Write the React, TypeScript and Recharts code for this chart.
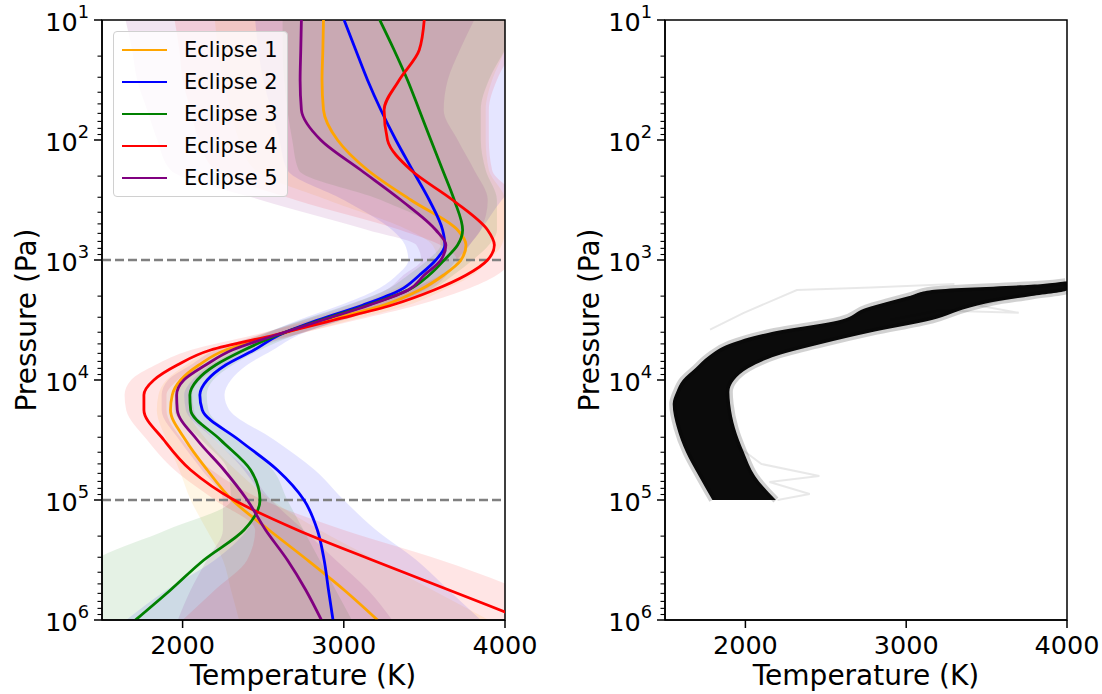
import React from 'react';
import { ComposedChart, Area, Line, XAxis, YAxis, ReferenceLine, ReferenceArea } from 'recharts';

// log10 of pressure (Pa) at which each profile was read
const LOG_P = [1, 1.25, 1.5, 1.75, 2, 2.25, 2.5, 2.75, 2.875, 3, 3.125, 3.25, 3.375, 3.5, 3.625, 3.75, 3.875, 4, 4.125, 4.25, 4.5, 4.75, 5, 5.25, 5.5, 5.75, 6];

const E1_T = [2874, 2870, 2865, 2874, 2961, 3147, 3416, 3706, 3758, 3727, 3620, 3470, 3250, 2900, 2590, 2267, 2101, 1988, 1936, 1925, 2018, 2153, 2308, 2536, 2774, 3002, 3209];
const E1_LO = [2200, 2220, 2250, 2300, 2350, 2450, 2900, 3400, 3550, 3580, 3480, 3300, 3080, 2760, 2480, 2180, 2020, 1900, 1850, 1840, 1900, 1980, 2050, 2150, 2250, 2300, 2350];
const E1_HI = [4050, 4000, 3920, 3880, 3880, 3900, 4000, 4000, 3980, 3900, 3800, 3620, 3400, 3050, 2700, 2380, 2200, 2090, 2040, 2040, 2150, 2330, 2550, 2850, 3200, 3550, 3900];

const E2_T = [3002, 3074, 3147, 3230, 3323, 3426, 3530, 3613, 3627, 3571, 3470, 3350, 3120, 2840, 2600, 2443, 2267, 2153, 2107, 2122, 2350, 2588, 2753, 2836, 2878, 2905, 2933];
const E2_LO = [2450, 2470, 2500, 2550, 2600, 2650, 3000, 3300, 3380, 3400, 3330, 3200, 2980, 2720, 2500, 2340, 2170, 2060, 2010, 2020, 2200, 2380, 2480, 2400, 2200, 1900, 1650];
const E2_HI = [4000, 4050, 4400, 4450, 4300, 4150, 3980, 3850, 3780, 3700, 3620, 3500, 3280, 2980, 2720, 2560, 2400, 2300, 2260, 2290, 2570, 2820, 3000, 3200, 3450, 3650, 3850];

const E3_T = [3223, 3312, 3395, 3468, 3540, 3613, 3685, 3737, 3706, 3623, 3530, 3400, 3150, 2860, 2590, 2381, 2205, 2091, 2045, 2050, 2236, 2422, 2480, 2381, 2132, 1925, 1708];
const E3_LO = [2620, 2620, 2630, 2650, 2680, 2720, 3230, 3580, 3600, 3520, 3400, 3260, 3020, 2740, 2480, 2280, 2110, 2000, 1950, 1950, 2120, 2280, 2300, 1900, 1450, 1300, 1200];
const E3_HI = [4100, 4000, 3900, 3850, 3850, 3880, 3950, 3950, 3900, 3800, 3680, 3540, 3300, 2990, 2700, 2480, 2310, 2190, 2150, 2160, 2350, 2560, 2650, 2750, 2850, 2950, 3050];

const E4_T = [3499, 3468, 3344, 3250, 3271, 3416, 3675, 3892, 3934, 3892, 3760, 3560, 3300, 2940, 2570, 2174, 1967, 1822, 1760, 1760, 1884, 2050, 2319, 2712, 3176, 3652, 4128];
const E4_LO = [1950, 1980, 2000, 2050, 2100, 2200, 2700, 3350, 3600, 3700, 3600, 3400, 3150, 2800, 2440, 2050, 1830, 1680, 1640, 1650, 1780, 1950, 2200, 2450, 2400, 2200, 2000];
const E4_HI = [4150, 4050, 3950, 3900, 3900, 3920, 4100, 4150, 4100, 4050, 3950, 3750, 3460, 3080, 2690, 2300, 2100, 1970, 1900, 1900, 2000, 2180, 2500, 3000, 3600, 4100, 4500];

const E5_T = [2737, 2733, 2729, 2737, 2857, 3105, 3354, 3571, 3633, 3602, 3500, 3400, 3160, 2870, 2580, 2308, 2143, 2008, 1963, 1967, 2091, 2257, 2401, 2515, 2650, 2764, 2861];
const E5_LO = [1646, 1687, 1718, 1780, 1843, 1925, 2484, 3147, 3450, 3480, 3370, 3260, 3030, 2750, 2470, 2200, 2050, 1910, 1870, 1870, 1980, 2120, 2250, 2250, 2150, 2050, 1970];
const E5_HI = [3809, 3720, 3645, 3620, 3707, 3809, 3893, 3850, 3780, 3720, 3640, 3530, 3300, 3000, 2700, 2420, 2250, 2110, 2060, 2070, 2200, 2400, 2550, 2750, 2950, 3150, 3300];

// right panel: envelope of the sampled profiles
const SAMPLE_LOG_P = [3.18, 3.2, 3.25, 3.3, 3.35, 3.4, 3.5, 3.6, 3.7, 3.8, 3.9, 4.0, 4.1, 4.2, 4.4, 4.6, 4.8, 5.0];
const SAMPLE_LO = [3990, 3850, 3160, 3020, 2880, 2750, 2590, 2165, 1900, 1772, 1690, 1610, 1570, 1548, 1575, 1630, 1710, 1795];
const SAMPLE_HI = [4000, 4000, 4000, 3780, 3540, 3385, 3160, 2790, 2470, 2190, 2020, 1930, 1900, 1905, 1935, 1990, 2060, 2190];

// a few stray samples
const STRAY_A_P = [3.58, 3.44, 3.25, 3.23, 3.2];
const STRAY_A_T = [1780, 1990, 2320, 2780, 3300];
const STRAY_B_P = [3.5, 3.42, 3.44, 3.38, 3.3];
const STRAY_B_T = [2900, 3200, 3700, 3450, 3700];
const STRAY_C_P = [4.55, 4.7, 4.8, 4.85, 4.95, 5.0];
const STRAY_C_T = [1950, 2100, 2460, 2150, 2400, 2200];

const T_TICKS = [2000, 3000, 4000];
const P_DECADES = [1, 2, 3, 4, 5, 6];
const REF_LOG_P = [3, 5];

const ECLIPSES = [
  { name: 'Eclipse 1', color: '#ffa500', t: E1_T, lo: E1_LO, hi: E1_HI },
  { name: 'Eclipse 2', color: '#0000ff', t: E2_T, lo: E2_LO, hi: E2_HI },
  { name: 'Eclipse 3', color: '#008000', t: E3_T, lo: E3_LO, hi: E3_HI },
  { name: 'Eclipse 4', color: '#ff0000', t: E4_T, lo: E4_LO, hi: E4_HI },
  { name: 'Eclipse 5', color: '#800080', t: E5_T, lo: E5_LO, hi: E5_HI },
];

const FONT = '"DejaVu Sans", sans-serif';
const TICK_FS = 25.5;

const profileRows = LOG_P.map((lp, i) => {
  const r: any = { lp };
  ECLIPSES.forEach((e, k) => {
    r['t' + k] = e.t[i];
    r['b' + k] = [e.lo[i], e.hi[i]];
  });
  return r;
});

const sampleRows = SAMPLE_LOG_P.map((lp, i) => ({ lp, band: [SAMPLE_LO[i], SAMPLE_HI[i]] }));
const strayA = STRAY_A_P.map((lp, i) => ({ lp, t: STRAY_A_T[i] }));
const strayB = STRAY_B_P.map((lp, i) => ({ lp, t: STRAY_B_T[i] }));
const strayC = STRAY_C_P.map((lp, i) => ({ lp, t: STRAY_C_T[i] }));

const minorTicks: number[] = [];
P_DECADES.slice(0, -1).forEach(n => {
  for (let k = 2; k <= 9; k++) minorTicks.push(n + Math.log10(k));
});
const yTicks = [...P_DECADES, ...minorTicks];

const LogTick = (props: any) => {
  const { x, y, payload } = props;
  const v = payload.value;
  const major = Math.abs(v - Math.round(v)) < 1e-6;
  return (
    <g>
      <line x1={x} x2={x - (major ? 8 : 4.5)} y1={y} y2={y} stroke="#000" strokeWidth={major ? 1.5 : 1.1} />
      {major && (
        <text x={x - 13} y={y + 11} textAnchor="end" fontFamily={FONT} fontSize={TICK_FS} fill="#000">
          10<tspan dy={-13} fontSize={TICK_FS * 0.7}>{Math.round(v)}</tspan>
        </text>
      )}
    </g>
  );
};

const TempTick = (props: any) => {
  const { x, y, payload } = props;
  return (
    <g>
      <line x1={x} x2={x} y1={y} y2={y + 8} stroke="#000" strokeWidth={1.5} />
      <text x={x} y={y + 34} textAnchor="middle" fontFamily={FONT} fontSize={TICK_FS} fill="#000">
        {payload.value}
      </text>
    </g>
  );
};

const axes = (key: string) => [
  <XAxis
    key={key + 'x'}
    type="number"
    domain={[1500, 4000]}
    ticks={T_TICKS}
    allowDataOverflow
    height={50}
    tickSize={0}
    tickMargin={0}
    interval={0}
    axisLine={{ stroke: '#000', strokeWidth: 1.5 }}
    tick={<TempTick />}
  />,
  <YAxis
    key={key + 'y'}
    type="number"
    dataKey="lp"
    domain={[1, 6]}
    allowDataOverflow
    ticks={yTicks}
    width={80}
    tickSize={0}
    tickMargin={0}
    interval={0}
    axisLine={{ stroke: '#000', strokeWidth: 1.5 }}
    tick={<LogTick />}
  />,
];

const frame = (
  <ReferenceArea x1={1500} x2={4000} y1={1} y2={6} fill="none" stroke="#000" strokeWidth={1.5} ifOverflow="visible" />
);

const labelStyle: React.CSSProperties = {
  position: 'absolute',
  fontFamily: FONT,
  fontSize: 28,
  color: '#000',
  whiteSpace: 'nowrap',
  lineHeight: 1,
};

export default function App() {
  return (
    <div style={{ position: 'absolute', left: 0, top: 0, width: 1102, height: 694, background: '#fff', overflow: 'hidden' }}>
      <div style={{ position: 'absolute', left: 0, top: 0 }}>
        <ComposedChart
          width={560}
          height={694}
          layout="vertical"
          data={profileRows}
          margin={{ top: 20, right: 55, bottom: 24, left: 22 }}
        >
          {axes('l')}
          {ECLIPSES.map((e, k) => (
            <Area
              key={'band' + k}
              type="monotone"
              dataKey={'b' + k}
              stroke="none"
              fill={e.color}
              fillOpacity={0.1}
              isAnimationActive={false}
            />
          ))}
          {REF_LOG_P.map(p => (
            <ReferenceLine key={p} y={p} stroke="#808080" strokeWidth={2.6} strokeDasharray="9 4" />
          ))}
          {ECLIPSES.map((e, k) => (
            <Line
              key={'line' + k}
              type="monotone"
              dataKey={'t' + k}
              stroke={e.color}
              strokeWidth={2.8}
              dot={false}
              isAnimationActive={false}
            />
          ))}
          {frame}
        </ComposedChart>
      </div>

      <div style={{ position: 'absolute', left: 560, top: 0 }}>
        <ComposedChart
          width={542}
          height={694}
          layout="vertical"
          data={sampleRows}
          margin={{ top: 20, right: 35, bottom: 24, left: 25 }}
        >
          {axes('r')}
          <Area
            type="monotone"
            dataKey="band"
            stroke="#000"
            strokeOpacity={0.18}
            strokeWidth={7}
            fill="#0b0b0b"
            fillOpacity={1}
            isAnimationActive={false}
          />
          {[strayA, strayB, strayC].map((d, i) => (
            <Line
              key={'stray' + i}
              data={d}
              type="linear"
              dataKey="t"
              stroke="#000"
              strokeOpacity={0.09}
              strokeWidth={2}
              dot={false}
              isAnimationActive={false}
            />
          ))}
          {frame}
        </ComposedChart>
      </div>

      {/* legend */}
      <div
        style={{
          position: 'absolute',
          left: 113,
          top: 31,
          width: 175,
          height: 166,
          boxSizing: 'border-box',
          background: 'rgba(255,255,255,0.8)',
          border: '1.2px solid #d0d0d0',
          borderRadius: 4,
        }}
      >
        {ECLIPSES.map((e, k) => (
          <div key={e.name} style={{ position: 'absolute', left: 8, top: 5 + k * 32, height: 26, display: 'flex', alignItems: 'center' }}>
            <div style={{ width: 45, height: 2.8, background: e.color }} />
            <span style={{ marginLeft: 17, fontFamily: FONT, fontSize: 21, color: '#000' }}>{e.name}</span>
          </div>
        ))}
      </div>

      {/* axis titles */}
      <div style={{ ...labelStyle, left: 303, top: 662, transform: 'translateX(-50%)' }}>Temperature (K)</div>
      <div style={{ ...labelStyle, left: 866, top: 662, transform: 'translateX(-50%)' }}>Temperature (K)</div>
      <div style={{ ...labelStyle, left: 27, top: 320, transform: 'translate(-50%, -50%) rotate(-90deg)' }}>Pressure (Pa)</div>
      <div style={{ ...labelStyle, left: 590, top: 320, transform: 'translate(-50%, -50%) rotate(-90deg)' }}>Pressure (Pa)</div>
    </div>
  );
}
